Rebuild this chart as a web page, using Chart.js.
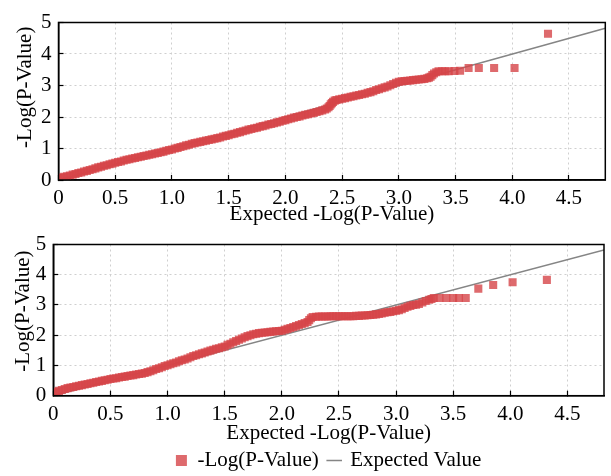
<!DOCTYPE html>
<html>
<head>
<meta charset="utf-8">
<script src="https://cdn.jsdelivr.net/npm/chart.js@4.4.1/dist/chart.umd.min.js"></script>
<style>
  html, body { margin: 0; padding: 0; background: #fff; overflow: hidden; width: 611px; height: 476px; }
  canvas { position: absolute; left: 0; }
  #topChart { top: 0; }
  #bottomChart { top: 222px; }
</style>
</head>
<body>
<canvas id="topChart" width="611" height="232"></canvas>
<canvas id="bottomChart" width="611" height="260"></canvas>
<script>
// QQ plots: observed vs expected -Log(P-Value)

// --- Data ---
const xMax = 4.82;
const yTicks = [0, 1, 2, 3, 4, 5];

// upper panel
const topExpected = [
  0.000, 0.025, 0.050, 0.075, 0.100, 0.125, 0.150, 0.175, 0.200, 0.225,
  0.250, 0.275, 0.300, 0.325, 0.350, 0.375, 0.400, 0.425, 0.450, 0.475,
  0.500, 0.525, 0.550, 0.575, 0.600, 0.625, 0.650, 0.675, 0.700, 0.725,
  0.750, 0.775, 0.800, 0.825, 0.850, 0.875, 0.900, 0.925, 0.950, 0.975,
  1.000, 1.025, 1.050, 1.075, 1.100, 1.125, 1.150, 1.175, 1.200, 1.225,
  1.250, 1.275, 1.300, 1.325, 1.350, 1.375, 1.400, 1.425, 1.450, 1.475,
  1.500, 1.525, 1.550, 1.575, 1.600, 1.625, 1.650, 1.675, 1.700, 1.725,
  1.750, 1.775, 1.800, 1.825, 1.850, 1.875, 1.900, 1.925, 1.950, 1.975,
  2.000, 2.025, 2.050, 2.075, 2.100, 2.125, 2.150, 2.175, 2.200, 2.225,
  2.250, 2.275, 2.300, 2.325, 2.350, 2.365, 2.380, 2.390, 2.400, 2.410,
  2.420, 2.435, 2.450, 2.475, 2.500, 2.525, 2.550, 2.575, 2.600, 2.625,
  2.650, 2.675, 2.700, 2.725, 2.750, 2.775, 2.800, 2.825, 2.850, 2.875,
  2.900, 2.925, 2.950, 2.975, 3.000, 3.025, 3.050, 3.075, 3.100, 3.125,
  3.150, 3.175, 3.200, 3.225, 3.250, 3.265, 3.280, 3.295, 3.310, 3.330,
  3.350, 3.380, 3.410, 3.440, 3.490, 3.540, 3.615, 3.705, 3.840, 4.020,
  4.315
];
const topObserved = [
  0.06, 0.08, 0.10, 0.12, 0.14, 0.17, 0.19, 0.22, 0.24, 0.27,
  0.29, 0.32, 0.34, 0.37, 0.40, 0.42, 0.45, 0.47, 0.50, 0.52,
  0.55, 0.57, 0.59, 0.62, 0.64, 0.66, 0.68, 0.70, 0.72, 0.74,
  0.76, 0.78, 0.80, 0.82, 0.84, 0.86, 0.88, 0.90, 0.93, 0.95,
  0.97, 1.00, 1.02, 1.05, 1.07, 1.10, 1.12, 1.15, 1.17, 1.19,
  1.21, 1.23, 1.25, 1.27, 1.29, 1.31, 1.33, 1.35, 1.38, 1.40,
  1.42, 1.45, 1.47, 1.50, 1.52, 1.55, 1.57, 1.60, 1.62, 1.64,
  1.66, 1.69, 1.71, 1.73, 1.76, 1.78, 1.80, 1.83, 1.85, 1.88,
  1.90, 1.93, 1.95, 1.98, 2.00, 2.02, 2.05, 2.07, 2.09, 2.11,
  2.13, 2.16, 2.18, 2.21, 2.24, 2.27, 2.31, 2.35, 2.40, 2.44,
  2.48, 2.52, 2.54, 2.56, 2.58, 2.60, 2.62, 2.64, 2.66, 2.68,
  2.70, 2.72, 2.74, 2.77, 2.79, 2.82, 2.86, 2.88, 2.91, 2.94,
  2.97, 3.01, 3.05, 3.09, 3.12, 3.13, 3.14, 3.15, 3.16, 3.17,
  3.18, 3.19, 3.20, 3.21, 3.23, 3.25, 3.28, 3.33, 3.38, 3.42,
  3.45, 3.45, 3.45, 3.45, 3.46, 3.47, 3.555, 3.555, 3.555, 3.555,
  4.645
];

// lower panel
const bottomExpected = [
  0.000, 0.025, 0.050, 0.075, 0.100, 0.125, 0.150, 0.175, 0.200, 0.225,
  0.250, 0.275, 0.300, 0.325, 0.350, 0.375, 0.400, 0.425, 0.450, 0.475,
  0.500, 0.525, 0.550, 0.575, 0.600, 0.625, 0.650, 0.675, 0.700, 0.725,
  0.750, 0.775, 0.800, 0.825, 0.850, 0.875, 0.900, 0.925, 0.950, 0.975,
  1.000, 1.025, 1.050, 1.075, 1.100, 1.125, 1.150, 1.175, 1.200, 1.225,
  1.250, 1.275, 1.300, 1.325, 1.350, 1.375, 1.400, 1.425, 1.450, 1.475,
  1.500, 1.525, 1.550, 1.575, 1.600, 1.625, 1.650, 1.675, 1.700, 1.725,
  1.750, 1.775, 1.800, 1.825, 1.850, 1.875, 1.900, 1.925, 1.950, 1.975,
  2.000, 2.025, 2.050, 2.075, 2.100, 2.125, 2.150, 2.175, 2.200, 2.225,
  2.240, 2.255, 2.270, 2.300, 2.325, 2.350, 2.375, 2.400, 2.425, 2.450,
  2.475, 2.500, 2.525, 2.550, 2.575, 2.600, 2.625, 2.650, 2.675, 2.700,
  2.725, 2.750, 2.775, 2.800, 2.825, 2.850, 2.875, 2.900, 2.925, 2.950,
  2.975, 3.000, 3.025, 3.050, 3.075, 3.100, 3.125, 3.150, 3.175, 3.200,
  3.230, 3.260, 3.290, 3.310, 3.330, 3.380, 3.440, 3.500, 3.550, 3.610,
  3.720, 3.850, 4.020, 4.320
];
const bottomObserved = [
  0.10, 0.13, 0.16, 0.19, 0.22, 0.25, 0.27, 0.29, 0.31, 0.33,
  0.35, 0.37, 0.39, 0.41, 0.43, 0.45, 0.47, 0.49, 0.51, 0.53,
  0.55, 0.57, 0.58, 0.60, 0.62, 0.63, 0.65, 0.67, 0.68, 0.70,
  0.72, 0.73, 0.75, 0.78, 0.81, 0.84, 0.88, 0.91, 0.94, 0.98,
  1.01, 1.04, 1.07, 1.10, 1.14, 1.17, 1.20, 1.23, 1.27, 1.31,
  1.34, 1.37, 1.40, 1.43, 1.46, 1.49, 1.52, 1.55, 1.57, 1.60,
  1.63, 1.68, 1.72, 1.77, 1.81, 1.85, 1.89, 1.93, 1.97, 2.00,
  2.03, 2.05, 2.07, 2.08, 2.09, 2.10, 2.11, 2.12, 2.13, 2.14,
  2.15, 2.18, 2.21, 2.24, 2.27, 2.30, 2.34, 2.37, 2.40, 2.44,
  2.50, 2.56, 2.60, 2.61, 2.62, 2.62, 2.62, 2.62, 2.63, 2.63,
  2.63, 2.63, 2.63, 2.63, 2.63, 2.63, 2.63, 2.64, 2.64, 2.65,
  2.65, 2.66, 2.67, 2.68, 2.69, 2.70, 2.72, 2.74, 2.76, 2.77,
  2.79, 2.81, 2.83, 2.86, 2.90, 2.94, 2.97, 3.00, 3.01, 3.03,
  3.08, 3.13, 3.17, 3.20, 3.23, 3.23, 3.23, 3.23, 3.23, 3.23,
  3.54, 3.66, 3.75, 3.83
];

// --- Styling ---
const serif = '"Liberation Serif", "Times New Roman", serif';
Chart.defaults.font.family = serif;
Chart.defaults.color = '#000';

const pointColor = 'rgba(214, 69, 72, 0.8)';
const lineColor = '#858585';

function toPoints(xs, ys) {
  return xs.map((x, i) => ({ x: x, y: ys[i] }));
}

// black box around the plot area + the rotated y title
const framePlugin = {
  id: 'frame',
  afterDatasetsDraw(chart, args, opts) {
    const a = chart.chartArea;
    const c = chart.ctx;
    c.save();
    c.strokeStyle = '#000';
    c.lineWidth = 1.5;
    c.strokeRect(a.left, a.top, a.right - a.left, a.bottom - a.top);
    c.restore();
  },
  afterDraw(chart, args, opts) {
    const a = chart.chartArea;
    const c = chart.ctx;
    c.save();
    c.font = '21px ' + serif;
    c.fillStyle = '#000';
    c.textAlign = 'center';
    c.textBaseline = 'middle';
    c.translate(opts.titleX, (a.top + a.bottom) / 2 + opts.titleShift);
    c.rotate(-Math.PI / 2);
    c.fillText('-Log(P-Value)', 0, 0);
    c.restore();
  }
};

function makeChart(id, xs, ys, opts) {
  return new Chart(document.getElementById(id), {
    data: {
      datasets: [
        {
          type: 'scatter',
          label: '-Log(P-Value)',
          data: toPoints(xs, ys),
          pointStyle: 'rect',
          pointRadius: 5.7,
          pointHoverRadius: 5.7,
          backgroundColor: pointColor,
          borderWidth: 0
        },
        {
          type: 'line',
          label: 'Expected Value',
          data: [{ x: 0, y: 0 }, { x: xMax, y: xMax }],
          borderColor: lineColor,
          backgroundColor: lineColor,
          borderWidth: 1.5,
          pointRadius: 0,
          pointStyle: 'line'
        }
      ]
    },
    options: {
      responsive: false,
      animation: false,
      devicePixelRatio: 1,
      layout: { padding: opts.padding },
      scales: {
        x: {
          type: 'linear',
          min: 0,
          max: xMax,
          afterFit: (s) => { s.height = opts.xHeight; },
          border: { color: '#000', width: 1.5, dash: [2, 3] },
          grid: {
            color: '#cfcfcf',
            tickColor: '#000',
            tickLength: -5,
            tickWidth: 1.2
          },
          ticks: {
            stepSize: 0.5,
            includeBounds: false,
            padding: 13,
            font: { size: 21, lineHeight: 1 },
            callback: (v) => v === 0 ? '0' : v.toFixed(1)
          },
          title: {
            display: true,
            text: 'Expected -Log(P-Value)',
            font: { size: 21, lineHeight: opts.xTitleLH },
            padding: { top: 0, bottom: opts.xTitlePad }
          }
        },
        y: {
          type: 'linear',
          min: yTicks[0],
          max: yTicks[yTicks.length - 1],
          afterFit: (s) => { s.width = opts.yWidth; },
          border: { color: '#000', width: 1.5, dash: [2, 3] },
          grid: {
            color: '#cfcfcf',
            tickColor: '#000',
            tickLength: -5,
            tickWidth: 1.2
          },
          ticks: {
            stepSize: 1,
            padding: 12,
            font: { size: 21, lineHeight: 1 }
          },
          title: { display: false }
        }
      },
      plugins: {
        legend: opts.legend,
        tooltip: { enabled: false },
        frame: { titleX: opts.yTitleX, titleShift: opts.yTitleShift }
      }
    },
    plugins: [framePlugin]
  });
}

makeChart('topChart', topExpected, topObserved, {
  padding: { top: 15, right: 3, left: 0, bottom: 0 },
  xHeight: 52,
  yWidth: 58.5,
  yTitleX: 25,
  yTitleShift: -14,
  xTitleLH: 1,
  xTitlePad: 7.5,
  legend: { display: false }
});

makeChart('bottomChart', bottomExpected, bottomObserved, {
  padding: { top: 12, right: 7, left: 0, bottom: 1 },
  xHeight: 44.3,
  yWidth: 53.3,
  yTitleX: 23.5,
  yTitleShift: -9,
  xTitleLH: 0.62,
  xTitlePad: 0,
  legend: {
    display: true,
    position: 'bottom',
    fullSize: false,
    labels: {
      usePointStyle: true,
      boxWidth: 11,
      boxHeight: 11,
      padding: 10,
      color: '#000',
      font: { size: 21 }
    }
  }
});
</script>
</body>
</html>
